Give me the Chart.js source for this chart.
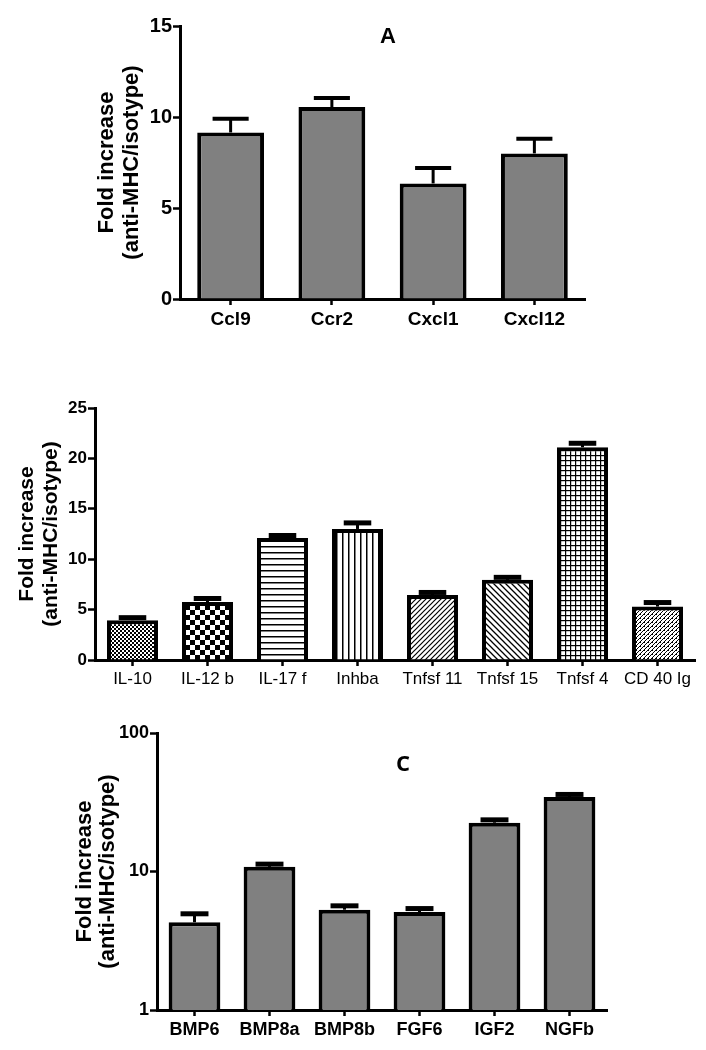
<!DOCTYPE html>
<html>
<head>
<meta charset="utf-8">
<script src="https://cdn.jsdelivr.net/npm/chart.js@4.4.1/dist/chart.umd.min.js"></script>
<style>
  body { margin: 0; background: #fff; }
  #page { position: relative; width: 706px; height: 1050px; overflow: hidden; }
  canvas { position: absolute; left: 0; }
  .tag { position: absolute; color: #000; font-weight: bold; transform: translate(-50%, -50%); }
</style>
</head>
<body>
<div id="page">
  <canvas id="chartA" width="706" height="345" style="top:0px"></canvas>
  <canvas id="chartB" width="706" height="310" style="top:390px"></canvas>
  <canvas id="chartC" width="706" height="350" style="top:700px"></canvas>
  <div class="tag" style="left:388px; top:36px; font-family:'Liberation Sans'; font-size:22px;">A</div>
  <div class="tag" style="left:403px; top:762px; font-family:'Open Sans'; font-size:22px;">C</div>
</div>
<script>
// panel A - chemokines
var labelsA = ["Ccl9", "Ccr2", "Cxcl1", "Cxcl12"];
var valuesA = [9.15, 10.55, 6.35, 8.0];
var errTopA = [9.9, 11.05, 7.2, 8.8];
var ticksA = [0, 5, 10, 15];

// panel B - cytokines
var labelsB = ["IL-10", "IL-12 b", "IL-17 f", "Inhba", "Tnfsf 11", "Tnfsf 15", "Tnfsf 4", "CD 40 Ig"];
var valuesB = [3.95, 5.75, 12.1, 13.0, 6.45, 7.95, 21.1, 5.3];
var errTopB = [4.2, 6.1, 12.35, 13.6, 6.7, 8.2, 21.5, 5.7];
var ticksB = [0, 5, 10, 15, 20, 25];

// panel C - growth factors (log axis)
var labelsC = ["BMP6", "BMP8a", "BMP8b", "FGF6", "IGF2", "NGFb"];
var valuesC = [4.3, 10.8, 5.3, 5.1, 22.5, 34.5];
var errTopC = [4.95, 11.3, 5.65, 5.4, 23.6, 36.0];
var ticksC = [1, 10, 100];

var yTitle = ["Fold increase", "(anti-MHC/isotype)"];

// error bars drawn on top of each bar
var errPlugin = {
  id: "errBars",
  afterDatasetsDraw: function (chart, args, opts) {
    var ctx = chart.ctx;
    var meta = chart.getDatasetMeta(0);
    var y = chart.scales.y;
    ctx.save();
    ctx.strokeStyle = "#000";
    meta.data.forEach(function (bar, i) {
      var top = y.getPixelForValue(opts.values[i]);
      var half = bar.width * 0.27;
      ctx.lineWidth = 3;
      ctx.beginPath();
      ctx.moveTo(bar.x, bar.y);
      ctx.lineTo(bar.x, top);
      ctx.stroke();
      ctx.lineWidth = opts.cap;
      ctx.beginPath();
      ctx.moveTo(bar.x - half, top);
      ctx.lineTo(bar.x + half, top);
      ctx.stroke();
    });
    ctx.restore();
  }
};

// hatch tiles for panel B
function tile(size, draw) {
  var c = document.createElement("canvas");
  c.width = size;
  c.height = size;
  var t = c.getContext("2d");
  t.fillStyle = "#fff";
  t.fillRect(0, 0, size, size);
  t.fillStyle = "#000";
  t.strokeStyle = "#000";
  draw(t, size);
  return t.createPattern(c, "repeat");
}

var patternsB = [
  tile(4, function (t) { t.fillRect(0, 0, 2, 2); t.fillRect(2, 2, 2, 2); }),
  tile(10, function (t) { t.fillRect(0, 0, 5, 5); t.fillRect(5, 5, 5, 5); }),
  tile(6, function (t) { t.fillRect(0, 0, 6, 1.5); }),
  tile(6, function (t) { t.fillRect(0, 0, 1.5, 6); }),
  tile(5, function (t, s) {
    t.lineWidth = 1.2;
    t.beginPath();
    t.moveTo(0, s); t.lineTo(s, 0);
    t.moveTo(-1, 1); t.lineTo(1, -1);
    t.moveTo(s - 1, s + 1); t.lineTo(s + 1, s - 1);
    t.stroke();
  }),
  tile(6, function (t, s) {
    t.lineWidth = 1.3;
    t.beginPath();
    t.moveTo(0, 0); t.lineTo(s, s);
    t.moveTo(s - 1, -1); t.lineTo(s + 1, 1);
    t.moveTo(-1, s - 1); t.lineTo(1, s + 1);
    t.stroke();
  }),
  tile(5, function (t) { t.fillRect(0, 0, 5, 1.2); t.fillRect(0, 0, 1.2, 5); }),
  tile(4, function (t, s) {
    t.lineWidth = 1;
    t.beginPath();
    t.moveTo(0, s); t.lineTo(s, 0);
    t.moveTo(-1, 1); t.lineTo(1, -1);
    t.moveTo(s - 1, s + 1); t.lineTo(s + 1, s - 1);
    t.stroke();
    t.fillRect(0, 0, 1, 1);
  })
];

function axisX(font, h) {
  return {
    offset: true,
    grid: { display: true, drawOnChartArea: false, offset: false, tickLength: 6, tickWidth: 2.5, tickColor: "#000" },
    border: { display: true, color: "#000", width: 3 },
    ticks: { color: "#000", font: font, padding: 3, maxRotation: 0, autoSkip: false },
    afterFit: function (s) { s.height = h; }
  };
}

function axisY(type, min, max, tickVals, tickFont, titleFont, lh, w) {
  return {
    type: type,
    min: min,
    max: max,
    afterBuildTicks: function (s) {
      s.ticks = tickVals.map(function (v) { return { value: v }; });
    },
    grid: { display: true, drawOnChartArea: false, tickLength: 7, tickWidth: 2.5, tickColor: "#000" },
    border: { display: true, color: "#000", width: 3 },
    ticks: { color: "#000", font: tickFont, padding: 1, callback: function (v) { return v; } },
    title: { display: true, text: yTitle, color: "#000", font: { family: "Liberation Sans", size: titleFont, weight: "bold", lineHeight: lh }, padding: 4 },
    afterFit: function (s) { s.width = w; }
  };
}

function baseOptions(pad, xAxis, yAxis, errs, cap) {
  return {
    responsive: false,
    animation: false,
    layout: { padding: pad },
    plugins: { legend: { display: false }, tooltip: { enabled: false }, errBars: { values: errs, cap: cap } },
    scales: { x: xAxis, y: yAxis }
  };
}

var boldArial = function (size) { return { family: "Liberation Sans", size: size, weight: "bold" }; };

var graphA = new Chart(document.getElementById("chartA").getContext("2d"), {
  type: "bar",
  data: {
    labels: labelsA,
    datasets: [{
      data: valuesA,
      backgroundColor: "rgb(128,128,128)",
      borderColor: "#000",
      borderWidth: 4,
      barPercentage: 0.66,
      categoryPercentage: 1
    }]
  },
  options: baseOptions(
    { left: 90, right: 121, top: 26, bottom: 6 },
    axisX(boldArial(19), 40),
    axisY("linear", 0, 15, ticksA, boldArial(20), 22, 1.15, 90),
    errTopA, 4
  ),
  plugins: [errPlugin]
});

var graphB = new Chart(document.getElementById("chartB").getContext("2d"), {
  type: "bar",
  data: {
    labels: labelsB,
    datasets: [{
      data: valuesB,
      backgroundColor: patternsB,
      borderColor: "#000",
      borderWidth: 4,
      barPercentage: 0.68,
      categoryPercentage: 1
    }]
  },
  options: baseOptions(
    { left: 11, right: 11, top: 18, bottom: 10 },
    axisX({ family: "Liberation Sans", size: 17 }, 30),
    axisY("linear", 0, 25, ticksB, boldArial(17), 21, 1.15, 84),
    errTopB, 5
  ),
  plugins: [errPlugin]
});

var graphC = new Chart(document.getElementById("chartC").getContext("2d"), {
  type: "bar",
  data: {
    labels: labelsC,
    datasets: [{
      data: valuesC,
      backgroundColor: "rgb(128,128,128)",
      borderColor: "#000",
      borderWidth: 4,
      barPercentage: 0.69,
      categoryPercentage: 1
    }]
  },
  options: baseOptions(
    { left: 69, right: 99, top: 33, bottom: 10 },
    axisX(boldArial(18), 30),
    axisY("logarithmic", 1, 100, ticksC, boldArial(18), 22, 1.05, 88),
    errTopC, 5
  ),
  plugins: [errPlugin]
});
</script>
</body>
</html>
